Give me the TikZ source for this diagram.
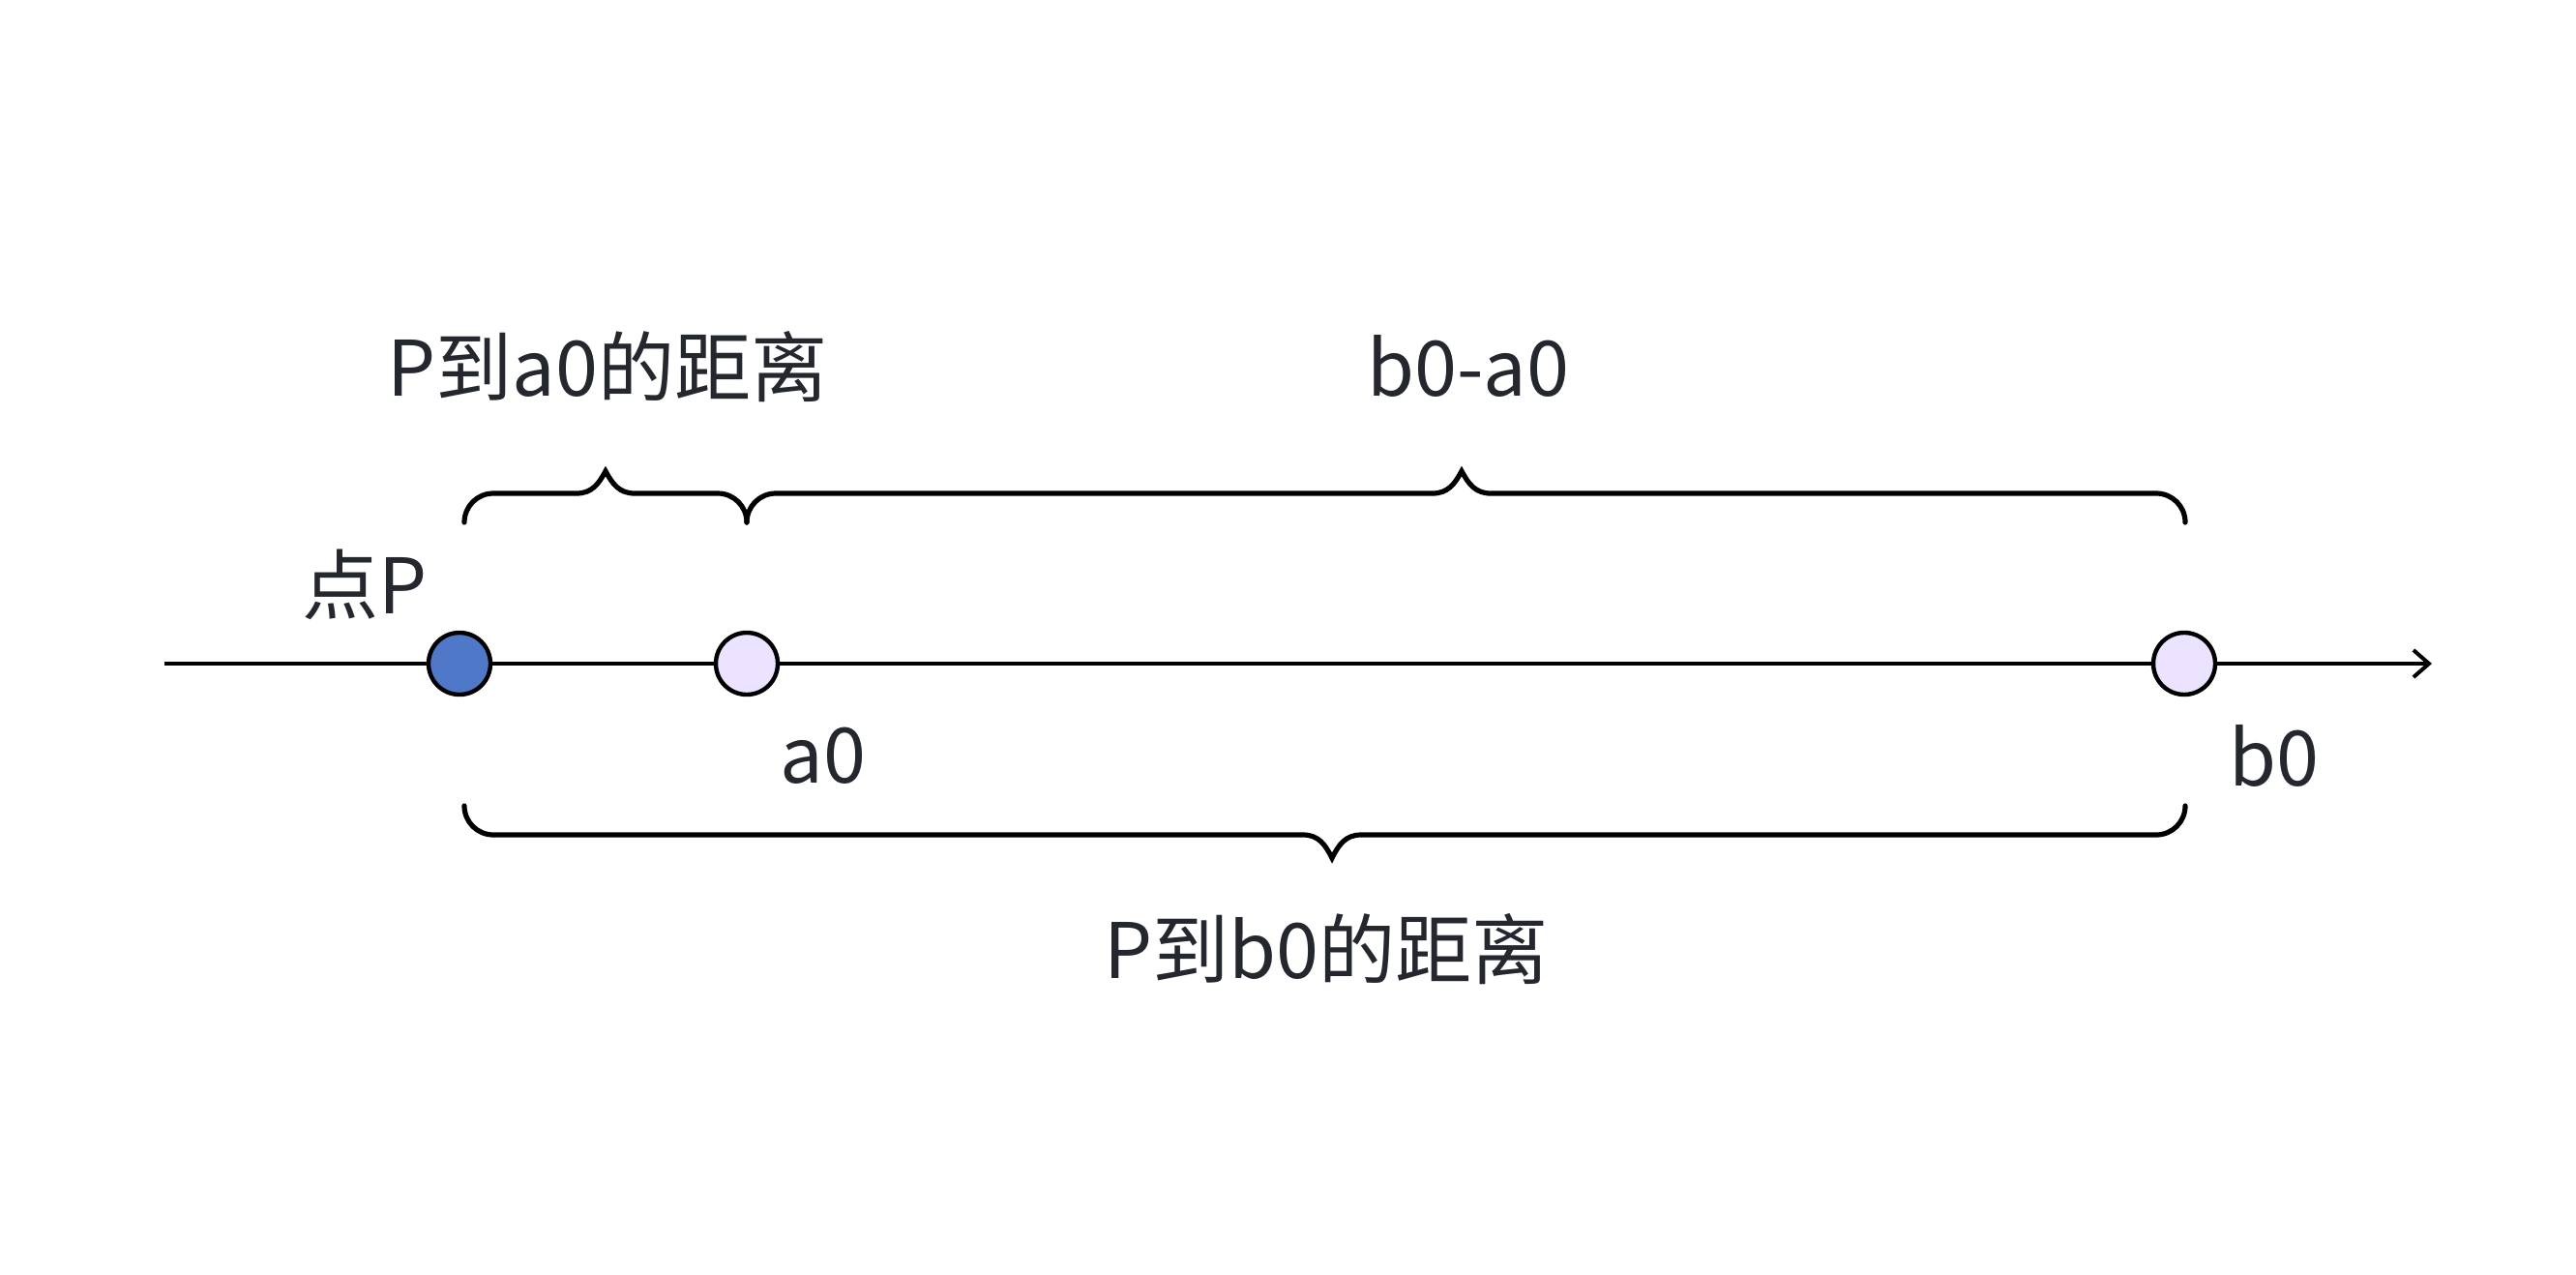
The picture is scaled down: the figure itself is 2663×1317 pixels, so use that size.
\documentclass[tikz,border=0pt]{standalone}
\usepackage{fontspec}
\setmainfont{Noto Sans CJK SC}
\usetikzlibrary{arrows.meta}
\definecolor{txt}{HTML}{24272E}
\definecolor{pblue}{HTML}{5078C8}
\definecolor{lav}{HTML}{EBE3FF}
\tikzset{
  lbl/.style={anchor=base, text=txt, font=\fontsize{19.8pt}{22pt}\selectfont, inner sep=0pt},
  pt/.style={circle, draw=black, line width=1.1pt, minimum size=16pt, inner sep=0pt},
  axisline/.style={line width=1pt, black},
  bracestyle/.style={line width=1.3pt, black, line cap=round, line join=miter}
}
\newcommand\upbrace[3]{%
  \draw[bracestyle] (#1,540) .. controls (#1,523.4) and (#1+13.4,510) .. (#1+30,510)
    -- (#3-30,510) .. controls (#3-14,510) and (#3-7,500) .. (#3,487)
    .. controls (#3+7,500) and (#3+14,510) .. (#3+30,510)
    -- (#2-30,510) .. controls (#2-13.4,510) and (#2,523.4) .. (#2,540);}
\newcommand\downbrace[3]{%
  \draw[bracestyle] (#1,833) .. controls (#1,849.6) and (#1+13.4,863) .. (#1+30,863)
    -- (#3-30,863) .. controls (#3-14,863) and (#3-7,873) .. (#3,887)
    .. controls (#3+7,873) and (#3+14,863) .. (#3+30,863)
    -- (#2-30,863) .. controls (#2-13.4,863) and (#2,849.6) .. (#2,833);}
\begin{document}
\begin{tikzpicture}[x=0.25pt, y=-0.25pt]
  \fill[white] (0,0) rectangle (2663,1317);
  \useasboundingbox (0,0) rectangle (2663,1317);
  % axis
  \coordinate (start) at (170,686);
  \coordinate (end) at (2514,686);
  \node[pt, fill=pblue] (P) at (475,686) {};
  \node[pt, fill=lav] (a0) at (772,686) {};
  \node[pt, fill=lav] (b0) at (2258,686) {};
  \draw[axisline] (start) -- (P);
  \draw[axisline] (P) -- (a0);
  \draw[axisline] (a0) -- (b0);
  \draw[axisline, -{Straight Barb[length=4pt, width=7pt, line width=1pt]}] (b0) -- (end);
  % braces
  \upbrace{480}{772}{626}
  \upbrace{772}{2259}{1511}
  \downbrace{480}{2259}{1377}
  % labels
  \node[lbl] (lPa) at (628,409) {P到a0的距离};
  \node[lbl] (lba) at (1518,409) {b0-a0};
  \node[lbl] (lP) at (377,634) {点P};
  \node[lbl] (la) at (851,809) {a0};
  \node[lbl] (lb) at (2351,812) {b0};
  \node[lbl] (lPb) at (1371,1011) {P到b0的距离};
\end{tikzpicture}
\end{document}
